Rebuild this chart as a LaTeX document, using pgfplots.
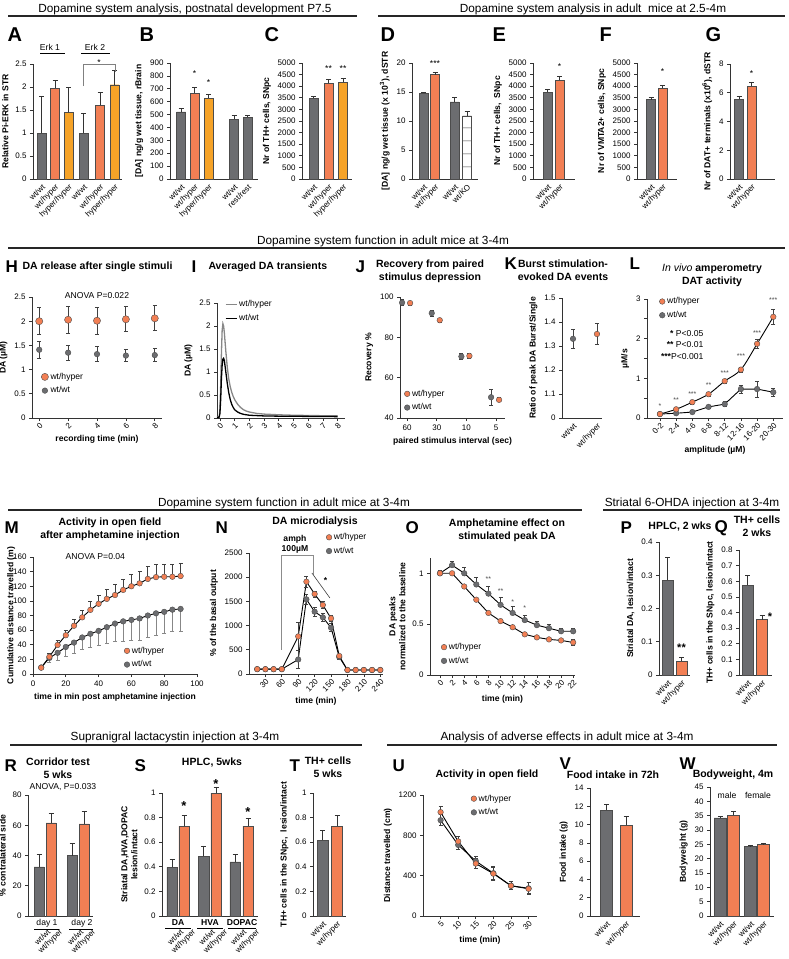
\documentclass[border=0pt]{standalone}
\usepackage{fontspec}
\setmainfont{Liberation Sans}
\usepackage{pgfplots}
\pgfplotsset{compat=1.18}
\usetikzlibrary{patterns.meta}

\definecolor{cg}{RGB}{108,109,112}
\definecolor{co}{RGB}{242,127,84}
\definecolor{cy}{RGB}{246,163,40}
\definecolor{cl}{RGB}{135,135,135}

\newcommand{\fTick}{\fontsize{8}{9}\selectfont}
\newcommand{\fLab}{\fontsize{8.6}{10}\selectfont\bfseries}
\newcommand{\fLeg}{\fontsize{8.6}{10}\selectfont}
\newcommand{\fStar}{\fontsize{7}{7}\selectfont}
\newcommand{\fTtl}{\fontsize{10.5}{13}\selectfont\bfseries}
\newcommand{\fHd}{\fontsize{11.8}{13}\selectfont}
\newcommand{\fPa}{\fontsize{20}{20}\selectfont\bfseries}
\newcommand{\fPb}{\fontsize{17}{17}\selectfont\bfseries}

\pgfplotsset{
  base/.style={scale only axis, anchor=south west, clip=false,
    axis lines=left, axis line style={-, line width=0.7pt, black!80},
    tick align=outside, major tick length=3pt,
    tick style={line width=0.7pt, black!80},
    ticklabel style={font=\fTick}, label style={font=\fLab},
    scaled ticks=false, legend cell align=left,
    /pgf/number format/assume math mode=true,
    /pgf/number format/1000 sep={}},
  cat/.style={base, xmin=0, ymin=0, major x tick style={draw=none},
    xticklabel style={rotate=45, anchor=north east, inner sep=1pt}},
  rot/.style={xticklabel style={rotate=45, anchor=north east, inner sep=1pt}},
  bb/.style={ybar, bar shift=0pt, bar width=9pt, fill=#1, draw=black!70, line width=0.4pt,
    error bars/y dir=plus, error bars/y explicit,
    error bars/error bar style={line width=0.7pt, black!80},
    error bars/error mark options={rotate=90, mark size=2.5pt, line width=0.7pt, black!80}},
  mk/.style={mark=*, mark size=2.8pt,
    mark options={solid, fill=#1, draw=black!70, line width=0.4pt},
    error bars/y dir=both, error bars/y explicit,
    error bars/error bar style={line width=0.8pt, black!75, solid},
    error bars/error mark options={rotate=90, mark size=2pt, line width=0.8pt, black!75}},
  leg/.style={legend style={draw=none, fill=none, font=\fLeg, inner sep=0pt,
    row sep=2pt, at={#1}, anchor=north west}},
  lmo/.style={only marks, mark=*, mark size=2.8pt,
    mark options={fill=#1, draw=black!70, line width=0.4pt}},
}

\begin{document}
\begin{tikzpicture}
\path[use as bounding box] (0pt,0pt) rectangle (788pt,-959pt);

% section headings
\node[font=\fHd] at (185pt,-9pt) {Dopamine system analysis, postnatal development P7.5};
\draw[line width=1.5pt, black!85] (8pt,-16pt) -- (357pt,-16pt);
\node[font=\fHd] at (593pt,-9pt) {Dopamine system analysis in adult \ mice at 2.5-4m};
\draw[line width=1.5pt, black!85] (378pt,-16pt) -- (785pt,-16pt);
\node[font=\fHd] at (383pt,-241pt) {Dopamine system function in adult mice at 3-4m};
\draw[line width=1.5pt, black!85] (8pt,-248pt) -- (785pt,-248pt);
\node[font=\fHd] at (284pt,-503pt) {Dopamine system function in adult mice at 3-4m};
\draw[line width=1.5pt, black!85] (8pt,-510pt) -- (582pt,-510pt);
\node[font=\fHd] at (692pt,-503pt) {Striatal 6-OHDA injection at 3-4m};
\draw[line width=1.5pt, black!85] (603pt,-510pt) -- (780pt,-510pt);
\node[font=\fHd] at (175pt,-737pt) {Supranigral lactacystin injection at 3-4m};
\draw[line width=1.5pt, black!85] (10pt,-745pt) -- (362pt,-745pt);
\node[font=\fHd] at (567pt,-737pt) {Analysis of adverse effects in adult mice at 3-4m};
\draw[line width=1.5pt, black!85] (387pt,-745pt) -- (777pt,-745pt);

% panel letters
\foreach \l/\x in {A/4,B/136,C/261,D/377,E/489,F/596,G/702}
  \node[font=\fPa, anchor=west] at (\x pt,-35pt) {\l};
\foreach \l/\x/\y in {H/2/267,I/188/267,J/352/267,K/501/264,L/626/264,
                     M/1/528,N/212/528,O/402/528,P/617/528,Q/711/528,
                     R/1/766,S/131/766,T/286/766,U/389/766,V/556/764,W/676/764}
  \node[font=\fPb, anchor=west] at (\x pt,-\y pt) {\l};

% panel titles
\node[font=\fTtl, anchor=west] at (19pt,-267pt) {DA release after single stimuli};
\node[font=\fTtl, anchor=west] at (205pt,-267pt) {Averaged DA transients};
\node[font=\fTtl, align=center] at (430pt,-271.5pt) {Recovery from paired\\stimulus depression};
\node[font=\fTtl, align=center] at (563pt,-270.5pt) {Burst stimulation-\\evoked DA events};
\node[font=\fTtl, align=center] at (712pt,-275.5pt) {{\mdseries\itshape In vivo} amperometry\\DAT activity};
\node[font=\fTtl, align=center] at (110pt,-529.5pt) {Activity in open field\\after amphetamine injection};
\node[font=\fTtl] at (315pt,-522pt) {DA microdialysis};
\node[font=\fTtl, align=center] at (507pt,-530.5pt) {Amphetamine effect on\\stimulated peak DA};
\node[font=\fTtl] at (680pt,-527pt) {HPLC, 2 wks};
\node[font=\fTtl, align=center] at (757pt,-526.5pt) {TH+ cells\\2 wks};
\node[font=\fTtl, align=center] at (58pt,-768pt) {Corridor test\\5 wks};
\node[font=\fTtl] at (212pt,-762pt) {HPLC, 5wks};
\node[font=\fTtl, align=center] at (328pt,-767pt) {TH+ cells\\5 wks};
\node[font=\fTtl] at (487pt,-775pt) {Activity in open field};
\node[font=\fTtl] at (613pt,-775pt) {Food intake in 72h};
\node[font=\fTtl] at (733pt,-775pt) {Bodyweight, 4m};

% ================= Row 1 =================
% A
\begin{axis}[cat, at={(33pt,-179pt)}, width=89pt, height=115pt, xmax=89, ymax=2.5,
  ytick={0,0.5,1,1.5,2,2.5},
  xtick={8.5,22,35.5,50.5,67,81.5},
  xticklabels={wt/wt,wt/hyper,hyper/hyper,wt/wt,wt/hyper,hyper/hyper},
  ylabel={Relative Pi-ERK in STR}]
\addplot[bb=cg] coordinates {(8.5,1.0) +- (0,0.80) (50.5,1.0) +- (0,0.43)};
\addplot[bb=co] coordinates {(22,1.97) +- (0,0.17) (67,1.60) +- (0,0.29)};
\addplot[bb=cy] coordinates {(35.5,1.45) +- (0,0.55) (81.5,2.05) +- (0,0.31)};
\node[font=\fLeg] at (axis cs:17,2.86) {Erk 1};
\draw[line width=0.9pt] (axis cs:7,2.73) -- (axis cs:32,2.73);
\node[font=\fLeg] at (axis cs:62,2.86) {Erk 2};
\draw[line width=0.9pt] (axis cs:48,2.73) -- (axis cs:77,2.73);
\draw[black!50, line width=0.6pt] (axis cs:50.5,2.02) -- (axis cs:50.5,2.5) -- (axis cs:82,2.5) -- (axis cs:82,2.33);
\node[font=\fLeg, anchor=base] at (axis cs:66,2.46) {*};
\end{axis}

% B
\begin{axis}[cat, at={(170pt,-179pt)}, width=88pt, height=116pt, xmax=88, ymax=900,
  ytick={0,100,...,900},
  xtick={11,24.5,38.5,64,77.5},
  xticklabels={wt/wt,wt/hyper,hyper/hyper,wt/wt,rest/rest},
  ylabel={[DA] ng/g wet tissue, rBrain}]
\addplot[bb=cg] coordinates {(11,520) +- (0,25) (64,465) +- (0,30) (77.5,480) +- (0,14)};
\addplot[bb=co] coordinates {(24.5,665) +- (0,45)};
\addplot[bb=cy] coordinates {(38.5,630) +- (0,28)};
\node[font=\fLeg, anchor=base] at (axis cs:24.5,799) {*};
\node[font=\fLeg, anchor=base] at (axis cs:38.5,729) {*};
\end{axis}

% C
\begin{axis}[cat, at={(302pt,-179pt)}, width=50pt, height=116pt, xmax=50, ymax=5000,
  ytick={0,500,...,5000},
  xtick={11.5,26.5,41},
  xticklabels={wt/wt,wt/hyper,hyper/hyper},
  ylabel={Nr of TH+ cells, SNpc}]
\addplot[bb=cg] coordinates {(11.5,3480) +- (0,90)};
\addplot[bb=co] coordinates {(26.5,4120) +- (0,180)};
\addplot[bb=cy] coordinates {(41,4170) +- (0,150)};
\node[font=\fLeg, anchor=base] at (axis cs:26.5,4655) {**};
\node[font=\fLeg, anchor=base] at (axis cs:41,4655) {**};
\end{axis}

% D
\begin{axis}[cat, at={(412pt,-179pt)}, width=66pt, height=116pt, xmax=66, ymax=20,
  ytick={0,5,10,15,20},
  xtick={11.5,23,42.5,55},
  xticklabels={wt/wt,wt/hyper,wt/wt,wt/KO},
  ylabel={[DA] ng/g wet tissue (x 10\textsuperscript{3}), dSTR}]
\addplot[bb=cg] coordinates {(11.5,14.8) +- (0,0.2) (42.5,13.3) +- (0,0.75)};
\addplot[bb=co] coordinates {(23,18.0) +- (0,0.4)};
\addplot[bb=white, pattern={Lines[angle=0, distance=13pt, line width=0.6pt]}, pattern color=black!75]
  coordinates {(55,10.9) +- (0,0.8)};
\node[font=\fLeg, anchor=base] at (axis cs:23,19.4) {***};
\end{axis}

% E
\begin{axis}[cat, at={(533pt,-179pt)}, width=42pt, height=116pt, xmax=42, ymax=5000,
  ytick={0,500,...,5000},
  xtick={14.5,26.5}, xticklabels={wt/wt,wt/hyper},
  ylabel={Nr of TH+ cells,\ \ SNpc}]
\addplot[bb=cg] coordinates {(14.5,3730) +- (0,130)};
\addplot[bb=co] coordinates {(26.5,4250) +- (0,180)};
\node[font=\fLeg, anchor=base] at (axis cs:26.5,4741) {*};
\end{axis}

% F
\begin{axis}[cat, at={(637pt,-179pt)}, width=40pt, height=116pt, xmax=40, ymax=5000,
  ytick={0,500,...,5000},
  xtick={14,25.5}, xticklabels={wt/wt,wt/hyper},
  ylabel={Nr of VMTA2+ cells, SNpc}]
\addplot[bb=cg] coordinates {(14,3420) +- (0,80)};
\addplot[bb=co] coordinates {(25.5,3920) +- (0,120)};
\node[font=\fLeg, anchor=base] at (axis cs:25.5,4526) {*};
\end{axis}

% G
\begin{axis}[cat, at={(730pt,-179pt)}, width=45pt, height=115pt, xmax=45, ymax=8,
  ytick={0,2,4,6,8},
  xtick={9,21.5}, xticklabels={wt/wt,wt/hyper},
  ylabel={Nr of DAT+ terminals (x10\textsuperscript{6}), dSTR}]
\addplot[bb=cg] coordinates {(9,5.55) +- (0,0.2)};
\addplot[bb=co] coordinates {(21.5,6.45) +- (0,0.3)};
\node[font=\fLeg, anchor=base] at (axis cs:21.5,7.1) {*};
\end{axis}

% ================= Row 2 =================
% H
\begin{axis}[base, at={(32pt,-418pt)}, width=130pt, height=121pt,
  xmin=-0.5, xmax=8.5, ymin=0, ymax=2.5, rot,
  xtick={0,2,4,6,8}, ytick={0,0.5,1,1.5,2,2.5},
  xlabel={recording time (min)}, ylabel={DA (µM)},
  leg={(rel axis cs:0.07,0.39)}]
\addplot[mk=cg, only marks, forget plot] coordinates {(0,1.41) +- (0,0.17) (2,1.35) +- (0,0.15)
  (4,1.32) +- (0,0.15) (6,1.29) +- (0,0.13) (8,1.30) +- (0,0.14)};
\addplot[mk=co, only marks, mark size=3.6pt, forget plot] coordinates {(0,2.00) +- (0,0.28)
  (2,2.03) +- (0,0.28) (4,2.01) +- (0,0.28) (6,2.04) +- (0,0.26) (8,2.06) +- (0,0.26)};
\addlegendimage{lmo=co, mark size=3.6pt}\addlegendentry{wt/hyper}
\addlegendimage{lmo=cg}\addlegendentry{wt/wt}
\node[font=\fLeg] at (axis cs:4,2.54) {ANOVA P=0.022};
\end{axis}

% I
\begin{axis}[base, at={(217pt,-418pt)}, width=128pt, height=115pt,
  xmin=-0.2, xmax=8.5, ymin=0, ymax=2.5, rot,
  xtick={0,1,...,8}, ytick={0,0.5,1,1.5,2,2.5},
  ylabel={DA (µM)},
  leg={(rel axis cs:0.06,1.04)},
  legend image code/.code={\draw[#1] (0pt,0pt) -- (11pt,0pt);}]
\addplot[cl, line width=1.3pt, forget plot] coordinates {(-0.2,0.02) (-0.05,0.03) (0,0.2)
  (0.05,0.7) (0.1,1.4) (0.15,1.9) (0.2,2.05) (0.25,2.0) (0.3,1.85) (0.4,1.45) (0.5,1.1)
  (0.6,0.85) (0.7,0.68) (0.8,0.56) (0.9,0.47) (1,0.4) (1.2,0.3) (1.4,0.23) (1.6,0.18)
  (1.8,0.15) (2,0.13) (2.5,0.1) (3,0.085) (4,0.07) (5,0.06) (6,0.055) (7,0.05) (8,0.05)};
\addplot[black, line width=1.3pt, forget plot] coordinates {(-0.2,0.01) (-0.05,0.02) (0,0.1)
  (0.05,0.4) (0.1,0.85) (0.15,1.15) (0.2,1.28) (0.25,1.3) (0.3,1.25) (0.4,1.0) (0.5,0.75)
  (0.6,0.55) (0.7,0.4) (0.8,0.3) (0.9,0.23) (1,0.18) (1.2,0.13) (1.4,0.1) (1.6,0.08)
  (2,0.06) (3,0.045) (4,0.04) (6,0.035) (8,0.03)};
\addlegendimage{cl, line width=1.3pt}\addlegendentry{wt/hyper}
\addlegendimage{black, line width=1.3pt}\addlegendentry{wt/wt}
\end{axis}

% J
\begin{axis}[base, at={(400pt,-418pt)}, width=105pt, height=121pt,
  xmin=-0.24, xmax=3.3, ymin=40, ymax=100,
  xtick={0,1,2,3}, xticklabels={60,30,10,5}, ytick={40,60,80,100},
  xlabel={paired stimulus interval (sec)}, ylabel={Recovery \%},
  leg={(rel axis cs:0.04,0.25)}]
\addplot[mk=cg, only marks, forget plot] coordinates {(-0.17,97.2) +- (0,1.5) (0.83,92) +- (0,1.5)
  (1.83,70.5) +- (0,1.5) (2.83,50.3) +- (0,4)};
\addplot[mk=co, only marks, forget plot] coordinates {(0.1,97) +- (0,1) (1.1,88.5) +- (0,1)
  (2.1,70.8) +- (0,1) (3.1,49) +- (0,1)};
\addlegendimage{lmo=co}\addlegendentry{wt/hyper}
\addlegendimage{lmo=cg}\addlegendentry{wt/wt}
\end{axis}

% K
\begin{axis}[base, at={(562pt,-418pt)}, width=40pt, height=120pt,
  xmin=-0.46, xmax=1.21, ymin=1, ymax=1.5, rot, major x tick style={draw=none},
  ytick={1,1.1,1.2,1.3,1.4,1.5}, yticklabels={0,1.1,1.2,1.3,1.4,1.5},
  xtick={0,1}, xticklabels={wt/wt,wt/hyper},
  ylabel={Ratio of peak DA Burst/Single}]
\addplot[mk=cg, only marks] coordinates {(0,1.33) +- (0,0.04)};
\addplot[mk=co, only marks] coordinates {(1,1.35) +- (0,0.045)};
\end{axis}

% L
\begin{axis}[base, at={(647pt,-418pt)}, width=136pt, height=119pt,
  xmin=-0.8, xmax=7.6, ymin=0, ymax=3, rot,
  xtick={0,...,7}, xticklabels={0-2,2-4,4-6,6-8,8-12,12-16,16-20,20-30},
  ytick={0,1,2,3}, minor y tick num=1,
  xlabel={amplitude (µM)}, ylabel={µM/s},
  leg={(rel axis cs:0.09,1.03)}]
\addplot[black, line width=0.9pt, mk=cg, forget plot] coordinates {(0,0.1) +- (0,0.03)
  (1,0.12) +- (0,0.03) (2,0.15) +- (0,0.04) (3,0.28) +- (0,0.05) (4,0.35) +- (0,0.06)
  (5,0.73) +- (0,0.1) (6,0.73) +- (0,0.2) (7,0.65) +- (0,0.1)};
\addplot[black, line width=0.9pt, smooth, mk=co, forget plot] coordinates {(0,0.1) +- (0,0.04)
  (1,0.22) +- (0,0.05) (2,0.4) +- (0,0.05) (3,0.6) +- (0,0.05) (4,0.93) +- (0,0.05)
  (5,1.22) +- (0,0.06) (6,1.87) +- (0,0.12) (7,2.55) +- (0,0.18)};
\addlegendimage{lmo=co}\addlegendentry{wt/hyper}
\addlegendimage{lmo=cg}\addlegendentry{wt/wt}
\node[font=\fStar, text=black!70, anchor=base] at (axis cs:0,0.25) {*};
\node[font=\fStar, text=black!70, anchor=base] at (axis cs:1,0.38) {**};
\node[font=\fStar, text=black!70, anchor=base] at (axis cs:2,0.55) {***};
\node[font=\fStar, text=black!70, anchor=base] at (axis cs:3,0.76) {**};
\node[font=\fStar, text=black!70, anchor=base] at (axis cs:4,1.06) {***};
\node[font=\fStar, text=black!70, anchor=base] at (axis cs:5,1.49) {***};
\node[font=\fStar, text=black!70, anchor=base] at (axis cs:6,2.07) {***};
\node[font=\fStar, text=black!70, anchor=base] at (axis cs:7,2.9) {***};
\node[font=\fLeg, anchor=east] at (axis cs:2.9,2.14) {\textbf{*} P<0.05};
\node[font=\fLeg, anchor=east] at (axis cs:2.9,1.84) {\textbf{**} P<0.01};
\node[font=\fLeg, anchor=east] at (axis cs:2.9,1.54) {\textbf{***}P<0.001};
\end{axis}

% ================= Row 3 =================
% M
\begin{axis}[base, at={(33pt,-674pt)}, width=164pt, height=117pt,
  xmin=0, xmax=100, ymin=0, ymax=160,
  xtick={0,20,...,100}, ytick={0,20,...,160},
  xlabel={time in min post amphetamine injection},
  ylabel={Cumulative distance travelled (m)}, ylabel shift=-3pt,
  ylabel style={yshift=-6pt},
  leg={(rel axis cs:0.555,0.25)}]
\addplot[black, line width=0.9pt, mk=cg, error bars/y dir=minus,
  error bars/error bar style={line width=0.8pt, cl},
  error bars/error mark options={rotate=90, mark size=2pt, line width=0.8pt, cl}, forget plot]
  coordinates {(5,9) +- (0,2) (10,22) +- (0,6) (15,29) +- (0,10) (20,37) +- (0,13)
  (25,43) +- (0,15) (30,50) +- (0,17) (35,55) +- (0,19) (40,59) +- (0,20) (45,64) +- (0,22)
  (50,69) +- (0,25) (55,72) +- (0,27) (60,74) +- (0,28) (65,76) +- (0,30) (70,80) +- (0,30)
  (75,83) +- (0,30) (80,85) +- (0,30) (85,88) +- (0,30) (90,89) +- (0,31)};
\addplot[black, line width=0.9pt, mk=co, error bars/y dir=plus, forget plot]
  coordinates {(5,8.6) +- (0,2) (10,23.6) +- (0,5) (15,39.7) +- (0,6) (20,53) +- (0,7)
  (25,66) +- (0,9) (30,77.5) +- (0,10) (35,87.7) +- (0,11) (40,96) +- (0,12) (45,102.7) +- (0,13)
  (50,108) +- (0,14) (55,115) +- (0,15) (60,120) +- (0,16) (65,124) +- (0,16) (70,130) +- (0,17)
  (75,132.5) +- (0,17) (80,133) +- (0,17) (85,133) +- (0,17) (90,134) +- (0,17)};
\addlegendimage{lmo=co}\addlegendentry{wt/hyper}
\addlegendimage{lmo=cg}\addlegendentry{wt/wt}
\node[font=\fLeg] at (axis cs:38,161) {ANOVA P=0.04};
\end{axis}

% N
\begin{axis}[base, at={(249pt,-674pt)}, width=134pt, height=121pt,
  xmin=0, xmax=245, ymin=0, ymax=2500, rot,
  xtick={30,60,...,240}, ytick={0,500,...,2500},
  xlabel={time (min)}, ylabel={\% of the basal output},
  leg={(rel axis cs:0.575,1.18)}]
\addplot[black, line width=0.9pt, mk=cg, forget plot] coordinates {(15,100) +- (0,15)
  (30,100) +- (0,15) (45,100) +- (0,15) (60,100) +- (0,15) (90,300) +- (0,180)
  (105,1543) +- (0,100) (120,1288) +- (0,90) (135,1171) +- (0,90) (150,957) +- (0,80)
  (165,350) +- (0,40) (180,83) +- (0,15) (195,83) +- (0,15) (210,83) +- (0,15)
  (225,83) +- (0,15) (240,83) +- (0,15)};
\addplot[black, line width=0.9pt, mk=co, forget plot] coordinates {(15,100) +- (0,15)
  (30,100) +- (0,15) (45,100) +- (0,15) (60,100) +- (0,15) (90,777) +- (0,280)
  (105,1907) +- (0,120) (120,1653) +- (0,60) (135,1426) +- (0,80) (150,1150) +- (0,60)
  (165,373) +- (0,40) (180,83) +- (0,15) (195,83) +- (0,15) (210,83) +- (0,15)
  (225,83) +- (0,15) (240,83) +- (0,15)};
\addlegendimage{lmo=co}\addlegendentry{wt/hyper}
\addlegendimage{lmo=cg}\addlegendentry{wt/wt}
\draw[black!45, line width=0.7pt] (axis cs:60,500) -- (axis cs:60,2460) -- (axis cs:117,2460) -- (axis cs:117,2050);
\node[font=\fLeg\bfseries, align=center] at (axis cs:84,2690) {amph\\100µM};
\draw[black!75, line width=0.6pt] (axis cs:115,2087) -- (axis cs:148,1570);
\node[font=\fLeg\bfseries, anchor=base] at (axis cs:140,1860) {*};
\end{axis}

% O
\begin{axis}[base, at={(430pt,-675pt)}, width=145pt, height=117pt,
  xmin=-1.65, xmax=22.3, ymin=0, ymax=1.15, rot,
  xtick={0,2,...,22}, ytick={0,0.5,1},
  xlabel={time (min)}, ylabel={DA peaks\\normalized to the baseline},
  ylabel style={align=center},
  leg={(rel axis cs:0.076,0.29)}]
\addplot[black, line width=0.9pt, mk=cg, error bars/y dir=plus, forget plot] coordinates {
  (0,1.0) +- (0,0.03) (2,1.08) +- (0,0.04) (4,1.0) +- (0,0.06) (6,0.89) +- (0,0.07)
  (8,0.80) +- (0,0.07) (10,0.69) +- (0,0.07) (12,0.61) +- (0,0.06) (14,0.54) +- (0,0.05)
  (16,0.49) +- (0,0.04) (18,0.46) +- (0,0.04) (20,0.43) +- (0,0.03) (22,0.43) +- (0,0.03)};
\addplot[black, line width=0.9pt, mk=co, forget plot] coordinates {
  (0,1.0) +- (0,0.01) (2,1.0) +- (0,0.01) (4,0.87) +- (0,0.01) (6,0.74) +- (0,0.01)
  (8,0.61) +- (0,0.01) (10,0.53) +- (0,0.01) (12,0.47) +- (0,0.01) (14,0.40) +- (0,0.01)
  (16,0.37) +- (0,0.01) (18,0.35) +- (0,0.01) (20,0.34) +- (0,0.01) (22,0.32) +- (0,0.03)};
\addlegendimage{lmo=co}\addlegendentry{wt/hyper}
\addlegendimage{lmo=cg}\addlegendentry{wt/wt}
\node[font=\fStar, text=black!70, anchor=base] at (axis cs:8,0.92) {**};
\node[font=\fStar, text=black!70, anchor=base] at (axis cs:10,0.80) {**};
\node[font=\fStar, text=black!70, anchor=base] at (axis cs:12,0.69) {*};
\node[font=\fStar, text=black!70, anchor=base] at (axis cs:14,0.63) {*};
\end{axis}

% P
\begin{axis}[cat, at={(659pt,-675pt)}, width=31pt, height=133pt, xmax=31, ymax=0.4,
  ytick={0,0.1,0.2,0.3,0.4},
  xtick={8.5,22.5}, xticklabels={wt/wt,wt/hyper},
  ylabel={Striatal DA, lesion/intact}]
\addplot[bb=cg, bar width=11pt] coordinates {(8.5,0.285) +- (0,0.07)};
\addplot[bb=co, bar width=11pt] coordinates {(22.5,0.042) +- (0,0.01)};
\node[font=\fontsize{11}{11}\selectfont\bfseries, anchor=base] at (axis cs:22.5,0.072) {**};
\end{axis}

% Q
\begin{axis}[cat, at={(739pt,-675pt)}, width=33pt, height=125pt, xmax=33, ymax=0.8,
  ytick={0,0.1,0.2,0.3,0.4,0.5,0.6,0.7,0.8},
  xtick={8.5,23}, xticklabels={wt/wt,wt/hyper},
  ylabel={TH+ cells in the SNpc, lesion/intact}]
\addplot[bb=cg, bar width=11pt] coordinates {(8.5,0.575) +- (0,0.065)};
\addplot[bb=co, bar width=11pt] coordinates {(23,0.355) +- (0,0.025)};
\node[font=\fontsize{11}{11}\selectfont\bfseries, anchor=base] at (axis cs:31,0.35) {*};
\end{axis}

% ================= Row 4 =================
% R
\begin{axis}[cat, at={(28pt,-916pt)}, width=65pt, height=121pt, xmax=65, ymax=80,
  ytick={0,20,40,60,80},
  xtick={11,23,44,56}, xticklabels={wt/wt,wt/hyper,wt/wt,wt/hyper},
  xticklabel style={yshift=-11pt},
  ylabel={\% contralateral side}]
\addplot[bb=cg, bar width=10pt] coordinates {(11,32.5) +- (0,8) (44,40) +- (0,8)};
\addplot[bb=co, bar width=10pt] coordinates {(23,61.5) +- (0,6.5) (56,61) +- (0,8)};
\node[font=\fLeg] at (axis cs:19,-4.5) {day 1};
\draw[line width=0.9pt] (axis cs:6,-8.8) -- (axis cs:31,-8.8);
\node[font=\fLeg] at (axis cs:54,-4.5) {day 2};
\draw[line width=0.9pt] (axis cs:41,-8.8) -- (axis cs:65,-8.8);
\node[font=\fLeg] at (axis cs:35,85) {ANOVA, P=0.033};
\end{axis}

% S
\begin{axis}[cat, at={(162pt,-916pt)}, width=96pt, height=123pt, xmax=96, ymax=1,
  ytick={0,0.2,0.4,0.6,0.8,1},
  xtick={10,22,41.5,54,73,86},
  xticklabels={wt/wt,wt/hyper,wt/wt,wt/hyper,wt/wt,wt/hyper},
  xticklabel style={yshift=-11pt},
  ylabel={Striatal DA,HVA,DOPAC\\lesion/intact}, ylabel style={align=center}]
\addplot[bb=cg, bar width=10.5pt] coordinates {(10,0.395) +- (0,0.065) (41.5,0.485) +- (0,0.085) (73,0.44) +- (0,0.06)};
\addplot[bb=co, bar width=10.5pt] coordinates {(22,0.73) +- (0,0.085) (54,1.0) +- (0,0.05) (86,0.73) +- (0,0.06)};
\node[font=\fLeg\bfseries] at (axis cs:16,-0.05) {DA};
\draw[line width=0.9pt] (axis cs:3,-0.105) -- (axis cs:29,-0.105);
\node[font=\fLeg\bfseries] at (axis cs:48,-0.05) {HVA};
\draw[line width=0.9pt] (axis cs:35,-0.105) -- (axis cs:61,-0.105);
\node[font=\fLeg\bfseries] at (axis cs:80,-0.05) {DOPAC};
\draw[line width=0.9pt] (axis cs:66,-0.105) -- (axis cs:94,-0.105);
\node[font=\fontsize{13}{13}\selectfont\bfseries, anchor=base] at (axis cs:22,0.86) {*};
\node[font=\fontsize{13}{13}\selectfont\bfseries, anchor=base] at (axis cs:54,1.035) {*};
\node[font=\fontsize{13}{13}\selectfont\bfseries, anchor=base] at (axis cs:86,0.81) {*};
\end{axis}

% T
\begin{axis}[cat, at={(313pt,-916pt)}, width=33pt, height=123pt, xmax=33, ymax=1,
  ytick={0,0.2,0.4,0.6,0.8,1},
  xtick={9.5,24}, xticklabels={wt/wt,wt/hyper},
  ylabel={TH+ cells in the SNpc,\ \ lesion/intact}]
\addplot[bb=cg, bar width=11pt] coordinates {(9.5,0.62) +- (0,0.075)};
\addplot[bb=co, bar width=11pt] coordinates {(24,0.73) +- (0,0.085)};
\end{axis}

% U
\begin{axis}[base, at={(423pt,-916pt)}, width=114pt, height=121pt,
  xmin=0, xmax=32.4, ymin=0, ymax=1200, rot,
  xtick={5,10,...,30}, ytick={0,400,800,1200},
  xlabel={time (min)}, ylabel={Distance travelled (cm)},
  leg={(rel axis cs:0.42,1.02)}]
\addplot[black, line width=0.9pt, mk=cg, forget plot] coordinates {(5,950) +- (0,55)
  (10,705) +- (0,45) (15,545) +- (0,45) (20,425) +- (0,60) (25,300) +- (0,40) (30,275) +- (0,55)};
\addplot[black, line width=0.9pt, mk=co, forget plot] coordinates {(5,1030) +- (0,60)
  (10,740) +- (0,50) (15,520) +- (0,50) (20,420) +- (0,70) (25,300) +- (0,40) (30,270) +- (0,60)};
\addlegendimage{lmo=co}\addlegendentry{wt/hyper}
\addlegendimage{lmo=cg}\addlegendentry{wt/wt}
\end{axis}

% V
\begin{axis}[cat, at={(590pt,-916pt)}, width=50pt, height=128pt, xmax=50, ymax=14,
  ytick={0,2,...,14},
  xtick={16.5,36}, xticklabels={wt/wt,wt/hyper},
  ylabel={Food intake (g)}]
\addplot[bb=cg, bar width=12pt] coordinates {(16.5,11.6) +- (0,0.6)};
\addplot[bb=co, bar width=12pt] coordinates {(36,9.9) +- (0,1.0)};
\end{axis}

% W
\begin{axis}[cat, at={(710pt,-916pt)}, width=64pt, height=129pt, xmax=64, ymax=45,
  ytick={0,5,...,45},
  xtick={10,23.5,40.5,53.5}, xticklabels={wt/wt,wt/hyper,wt/wt,wt/hyper},
  ylabel={Bodyweight (g)}]
\addplot[bb=cg, bar width=12pt] coordinates {(10,34.2) +- (0,0.6) (40.5,24.2) +- (0,0.3)};
\addplot[bb=co, bar width=12pt] coordinates {(23.5,35.2) +- (0,1.3) (53.5,24.9) +- (0,0.6)};
\node[font=\fLeg] at (axis cs:17,41.9) {male};
\node[font=\fLeg] at (axis cs:48,41.9) {female};
\end{axis}

\end{tikzpicture}
\end{document}
